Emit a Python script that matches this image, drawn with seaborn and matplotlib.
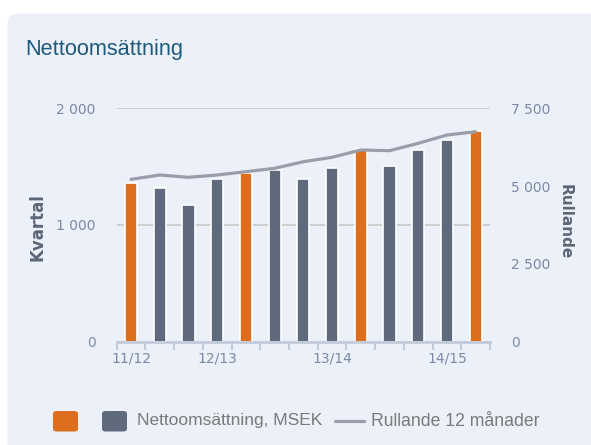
import numpy as np
import pandas as pd
import seaborn as sns
import matplotlib.pyplot as plt
from matplotlib.patches import FancyBboxPatch
from matplotlib.lines import Line2D

# quarterly net sales (MSEK), Q4 bars highlighted
kvartal = [1359, 1319, 1170, 1396, 1445, 1474, 1396, 1488, 1654, 1502, 1639, 1731, 1805]
rullande = [5218, 5357, 5283, 5357, 5463, 5572, 5784, 5925, 6160, 6138, 6375, 6642, 6748]
kind = ["q4", "q", "q", "q", "q4", "q", "q", "q", "q4", "q", "q", "q", "q4"]
year_labels = ["11/12", "12/13", "13/14", "14/15"]
year_pos = [0, 3, 7, 11]

ORANGE = "#dc6e1e"
SLATE = "#5f6b7d"
LINE = "#9a9daa"
BG = "#ecf0f8"
TICK = "#7a8aa5"

df = pd.DataFrame({"pos": np.arange(len(kvartal)), "value": kvartal, "kind": kind,
                   "roll": rullande})

sns.set_style("white")
fig = plt.figure(figsize=(5.91, 4.45), dpi=100)
fig.patch.set_facecolor("white")
W, H = 591, 445

# rounded panel
panel = FancyBboxPatch((7.5 / W, -0.2), 1.2, (445 - 13.5) / H + 0.2,
                       boxstyle="round,pad=0,rounding_size=0.02",
                       transform=fig.transFigure, facecolor=BG, edgecolor="none",
                       zorder=-5)
fig.patches.append(panel)

ax = fig.add_axes([116.7 / W, (445 - 341.7) / H, (490 - 116.7) / W, (341.7 - 108.3) / H])
ax.set_facecolor("none")
sns.barplot(data=df, x="pos", y="value", hue="kind", palette={"q4": ORANGE, "q": SLATE},
            dodge=False, width=0.42, edgecolor="white", linewidth=1.2, legend=False,
            saturation=1, ax=ax, zorder=3)
ax.set_xlim(-0.5, len(kvartal) - 0.5)
ax.set_ylim(0, 2000)
ax.set_yticks([0, 1000, 2000], ["0", "1 000", "2 000"])
ax.set_xticks(year_pos, year_labels)
ax.set_xticks(np.arange(-0.5, len(kvartal)), minor=True)
ax.tick_params(axis="x", which="both", bottom=True)
ax.tick_params(axis="x", which="major", length=0, pad=7, labelsize=10, labelcolor=TICK)
ax.tick_params(axis="x", which="minor", length=6, width=1.5, color="#c3cbdb", direction="out")
ax.tick_params(axis="y", length=0, pad=15, labelsize=10, labelcolor=TICK)
ax.grid(axis="y", color="#cccccc", linewidth=1.3, zorder=0)
ax.set_axisbelow(True)
for s in ["top", "left", "right"]:
    ax.spines[s].set_visible(False)
ax.spines["bottom"].set_color("#c3cbdb")
ax.spines["bottom"].set_linewidth(2)
ax.spines["bottom"].set_zorder(5)
ax.set_xlabel("")
ax.set_ylabel("")

ax2 = ax.twinx()
sns.lineplot(data=df, x="pos", y="roll", color=LINE, linewidth=2.3, ax=ax2, zorder=4)
ax2.set_ylim(0, 7500)
ax2.set_yticks([0, 2500, 5000, 7500], ["0", "2 500", "5 000", "7 500"])
ax2.tick_params(axis="y", length=0, pad=15, labelsize=10, labelcolor=TICK)
ax2.set_xlim(-0.5, len(kvartal) - 0.5)
for s in ax2.spines.values():
    s.set_visible(False)
ax2.set_xlabel("")
ax2.set_ylabel("")

fig.text(25 / W, 1 - 50 / H, "Nettoomsättning", fontsize=15.7, color="#1e5a7b",
         family="Liberation Sans", va="center", ha="left")
fig.text(38 / W, 1 - 227 / H, "Kvartal", rotation=90, fontsize=12, fontweight="bold",
         color="#5b6677", va="center", ha="center")
fig.text(565 / W, 1 - 222 / H, "Rullande", rotation=-90, fontsize=11, fontweight="bold",
         color="#5b6677", va="center", ha="center")

# legend drawn by hand
for x0, c in [(53, ORANGE), (102, SLATE)]:
    fig.patches.append(FancyBboxPatch((x0 / W, 1 - 431.5 / H), 25 / W, 20.5 / H,
                                      boxstyle="round,pad=0,rounding_size=0.006",
                                      transform=fig.transFigure, facecolor=c,
                                      edgecolor="none"))
fig.text(137 / W, 1 - 421 / H, "Nettoomsättning, MSEK", fontsize=12.5, color="#7a7a7a",
         family="Liberation Sans", va="center", ha="left")
fig.lines.append(Line2D([335 / W, 364 / W], [1 - 421 / H, 1 - 421 / H],
                        transform=fig.transFigure, color=LINE, linewidth=2.3))
fig.text(371 / W, 1 - 421 / H, "Rullande 12 månader", fontsize=12.7, color="#7a7a7a",
         family="Liberation Sans", va="center", ha="left")

fig.savefig("out.png", dpi=100)
